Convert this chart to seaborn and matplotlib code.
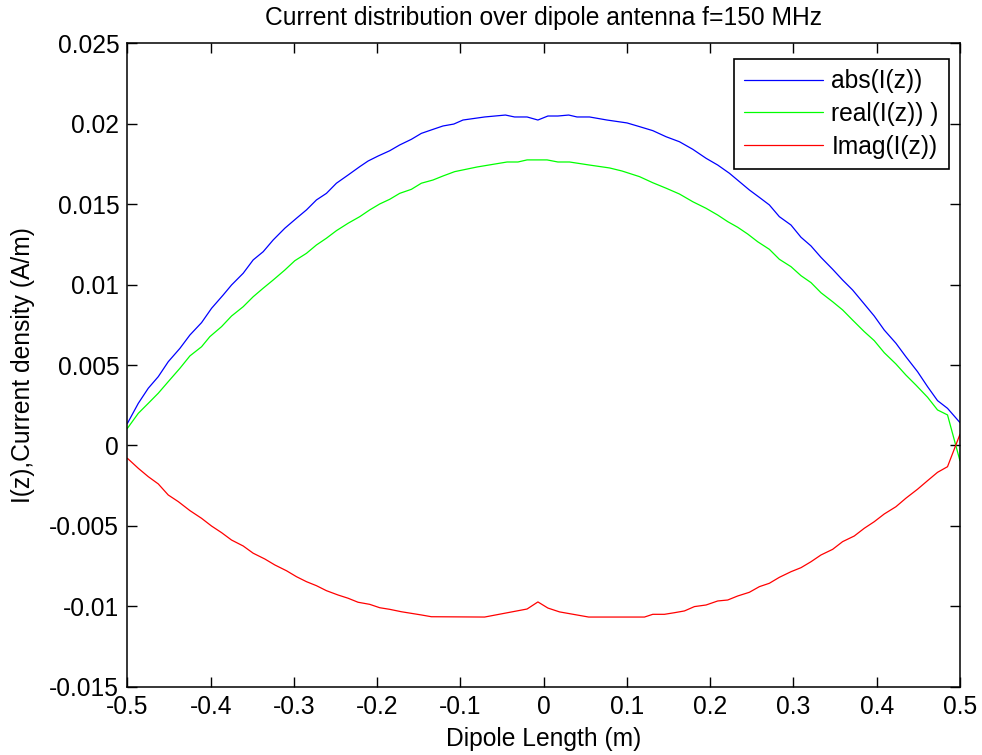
import matplotlib
matplotlib.use("Agg")
import matplotlib.pyplot as plt
import seaborn as sns
import pandas as pd

# ---- data ----
abs_z = [-0.5, -0.487, -0.475, -0.463, -0.451, -0.437, -0.425, -0.411, -0.399, -0.385,
         -0.375, -0.361, -0.349, -0.337, -0.325, -0.311, -0.297, -0.285, -0.273, -0.261,
         -0.249, -0.235, -0.221, -0.211, -0.199, -0.185, -0.173, -0.159, -0.147, -0.133,
         -0.121, -0.108, -0.097, -0.071, -0.046, -0.035, -0.020, -0.007, 0.005, 0.017,
         0.030, 0.040, 0.055, 0.076, 0.100, 0.115, 0.131, 0.147, 0.163, 0.179,
         0.195, 0.209, 0.223, 0.235, 0.247, 0.259, 0.271, 0.283, 0.297, 0.309,
         0.321, 0.333, 0.347, 0.359, 0.371, 0.385, 0.397, 0.409, 0.423, 0.435,
         0.449, 0.461, 0.473, 0.485, 0.5]
abs_vals = [0.00138, 0.00262, 0.00356, 0.00428, 0.00521, 0.00604, 0.00687, 0.00764, 0.00853, 0.00936,
            0.00998, 0.01071, 0.01154, 0.01205, 0.01278, 0.01351, 0.01413, 0.01465, 0.01527, 0.01568,
            0.01631, 0.01682, 0.01734, 0.01769, 0.01800, 0.01833, 0.01869, 0.01904, 0.01941, 0.01966,
            0.01987, 0.01999, 0.02024, 0.02043, 0.02055, 0.02043, 0.02043, 0.02024, 0.02049, 0.02049,
            0.02055, 0.02043, 0.02043, 0.02024, 0.02006, 0.01983, 0.01958, 0.01920, 0.01889, 0.01842,
            0.01786, 0.01744, 0.01693, 0.01641, 0.01589, 0.01543, 0.01496, 0.01423, 0.01371, 0.01295,
            0.01241, 0.01170, 0.01096, 0.01029, 0.00967, 0.00880, 0.00805, 0.00718, 0.00636, 0.00552,
            0.00459, 0.00366, 0.00279, 0.00231, 0.00142]

real_z = [-0.5, -0.487, -0.475, -0.463, -0.451, -0.437, -0.425, -0.411, -0.401, -0.387,
          -0.375, -0.361, -0.349, -0.337, -0.325, -0.311, -0.299, -0.285, -0.273, -0.261,
          -0.249, -0.235, -0.221, -0.209, -0.197, -0.185, -0.173, -0.159, -0.147, -0.133,
          -0.121, -0.107, -0.080, -0.044, -0.031, -0.020, 0.004, 0.017, 0.031, 0.055,
          0.079, 0.094, 0.115, 0.131, 0.147, 0.163, 0.179, 0.195, 0.209, 0.221,
          0.233, 0.245, 0.257, 0.271, 0.283, 0.297, 0.309, 0.321, 0.333, 0.347,
          0.359, 0.371, 0.385, 0.397, 0.409, 0.423, 0.435, 0.447, 0.461, 0.473,
          0.485, 0.5]
real_vals = [0.00107, 0.00200, 0.00262, 0.00325, 0.00397, 0.00480, 0.00557, 0.00614, 0.00677, 0.00739,
             0.00805, 0.00863, 0.00925, 0.00978, 0.01029, 0.01091, 0.01149, 0.01195, 0.01247, 0.01289,
             0.01336, 0.01382, 0.01423, 0.01465, 0.01502, 0.01531, 0.01568, 0.01593, 0.01631, 0.01651,
             0.01676, 0.01703, 0.01732, 0.01763, 0.01763, 0.01776, 0.01776, 0.01763, 0.01763, 0.01744,
             0.01726, 0.01707, 0.01672, 0.01634, 0.01600, 0.01564, 0.01516, 0.01475, 0.01433, 0.01392,
             0.01357, 0.01315, 0.01267, 0.01220, 0.01158, 0.01112, 0.01056, 0.01013, 0.00950, 0.00894,
             0.00843, 0.00780, 0.00708, 0.00652, 0.00577, 0.00507, 0.00438, 0.00376, 0.00300, 0.00221,
             0.00190, -0.00096]

imag_z = [-0.5, -0.487, -0.475, -0.463, -0.451, -0.439, -0.425, -0.411, -0.399, -0.387,
          -0.375, -0.361, -0.349, -0.335, -0.323, -0.309, -0.297, -0.285, -0.273, -0.261,
          -0.247, -0.235, -0.223, -0.209, -0.197, -0.185, -0.171, -0.159, -0.147, -0.135,
          -0.071, -0.020, -0.007, 0.005, 0.019, 0.054, 0.121, 0.131, 0.145, 0.157,
          0.169, 0.181, 0.195, 0.209, 0.221, 0.233, 0.247, 0.259, 0.271, 0.283,
          0.297, 0.309, 0.321, 0.333, 0.347, 0.359, 0.373, 0.385, 0.397, 0.409,
          0.423, 0.435, 0.449, 0.461, 0.473, 0.485, 0.5]
imag_vals = [-0.00080, -0.00142, -0.00194, -0.00239, -0.00308, -0.00349, -0.00405, -0.00453, -0.00501, -0.00542,
             -0.00588, -0.00625, -0.00670, -0.00706, -0.00743, -0.00779, -0.00816, -0.00847, -0.00872, -0.00903,
             -0.00930, -0.00950, -0.00975, -0.00988, -0.01009, -0.01019, -0.01034, -0.01044, -0.01054, -0.01065,
             -0.01067, -0.01017, -0.00973, -0.01011, -0.01035, -0.01067, -0.01067, -0.01050, -0.01050, -0.01040,
             -0.01029, -0.01002, -0.00992, -0.00967, -0.00961, -0.00936, -0.00913, -0.00878, -0.00857, -0.00820,
             -0.00785, -0.00760, -0.00723, -0.00681, -0.00646, -0.00598, -0.00563, -0.00515, -0.00474, -0.00426,
             -0.00381, -0.00328, -0.00272, -0.00219, -0.00167, -0.00132, 0.00070]

series_labels = ["abs(I(z))", "real(I(z)) )", "Imag(I(z))"]
series_colors = ["#0000ff", "#00ff00", "#ff0000"]

x_ticks = [-0.5, -0.4, -0.3, -0.2, -0.1, 0.0, 0.1, 0.2, 0.3, 0.4, 0.5]
x_tick_labels = ["-0.5", "-0.4", "-0.3", "-0.2", "-0.1", "0", "0.1", "0.2", "0.3", "0.4", "0.5"]
y_ticks = [-0.015, -0.01, -0.005, 0.0, 0.005, 0.01, 0.015, 0.02, 0.025]
y_tick_labels = ["-0.015", "-0.01", "-0.005", "0", "0.005", "0.01", "0.015", "0.02", "0.025"]

title = "Current distribution over dipole antenna f=150 MHz"
x_label = "Dipole Length (m)"
y_label = "I(z),Current density (A/m)"

# ---- plotting ----
sns.set_theme(style="white")
plt.rcParams["font.family"] = ["Liberation Sans", "DejaVu Sans"]
plt.rcParams["text.color"] = "black"
plt.rcParams["axes.labelcolor"] = "black"
FS = 17.7

fig = plt.figure(figsize=(9.82, 7.55), dpi=100)
ax = fig.add_axes([0.1298, 0.0905, 0.9776 - 0.1298, 0.9424 - 0.0905])

frames = [
    pd.DataFrame({"z": abs_z, "I": abs_vals}),
    pd.DataFrame({"z": real_z, "I": real_vals}),
    pd.DataFrame({"z": imag_z, "I": imag_vals}),
]
for df, lab, col in zip(frames, series_labels, series_colors):
    sns.lineplot(data=df, x="z", y="I", ax=ax, color=col, label=lab,
                 estimator=None, sort=False, linewidth=0.9)

ax.set_xlim(-0.5, 0.5)
ax.set_ylim(-0.015, 0.025)
ax.set_xticks(x_ticks)
ax.set_xticklabels(x_tick_labels, fontsize=FS)
ax.set_yticks(y_ticks)
ax.set_yticklabels(y_tick_labels, fontsize=FS)
ax.tick_params(direction="in", length=7, width=1.0, top=True, right=True,
               bottom=True, left=True, colors="black", labelcolor="black", pad=6)
for s in ax.spines.values():
    s.set_color("black")
    s.set_linewidth(1.1)
ax.grid(False)

ax.set_title(title, fontsize=FS, pad=13, color="black")
ax.set_xlabel(x_label, fontsize=FS, labelpad=6, color="black")
ax.set_ylabel(y_label, fontsize=FS, labelpad=10, color="black")

leg = ax.legend(loc="upper right", bbox_to_anchor=(0.987, 0.976), borderaxespad=0,
                fontsize=FS, frameon=True, fancybox=False, framealpha=1, edgecolor="black",
                handlelength=3.2, borderpad=0.42, labelspacing=0.36, handletextpad=0.35)
leg.get_frame().set_linewidth(1.2)
for t in leg.get_texts():
    t.set_color("black")

fig.savefig("out.png", dpi=100)
